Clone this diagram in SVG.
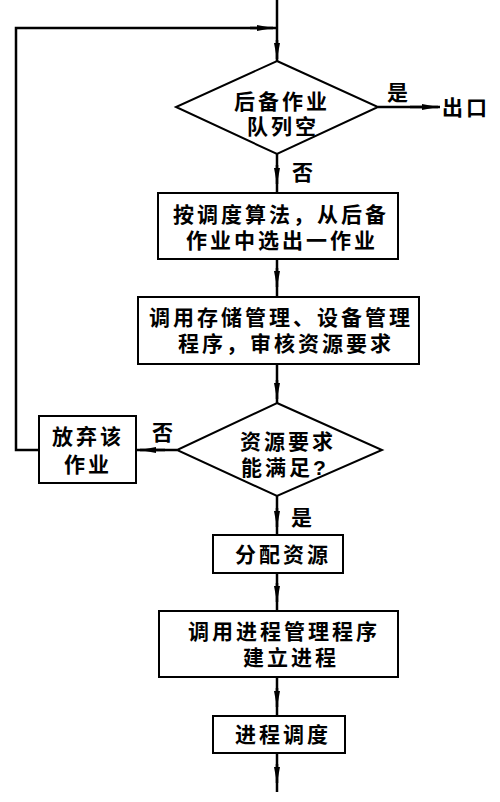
<svg xmlns="http://www.w3.org/2000/svg" width="500" height="802" viewBox="0 0 500 802">
<style>
.n{fill:#fff;stroke:#000;stroke-width:2}
.t{font-family:"Liberation Sans","Noto Sans CJK SC",sans-serif;font-size:21px;font-weight:bold;fill:#000;text-anchor:middle;letter-spacing:3px}
.c{fill:none;stroke:#000;stroke-width:2.5}
.a{fill:none;stroke:#000;stroke-width:2.5;marker-end:url(#ah)}
</style>
<defs>
<marker id="ah" markerUnits="userSpaceOnUse" markerWidth="16" markerHeight="8" viewBox="0 0 16 8" refX="16" refY="4" orient="auto">
<path d="M0,1 L16,4 L0,7 z" fill="#000"/>
</marker>
</defs>
<rect width="500" height="802" fill="#fff"/>
<g id="connectors">
<path class="c" d="M277,0 L277,61"/>
<path class="a" d="M277,40 L277,59"/>
<path class="c" d="M39,450 L16,450 L16,28 L277,28"/>
<path class="a" d="M250,28 L273,28"/>
<path class="c" d="M378,107 L440,107"/>
<path class="a" d="M410,107 L438,107"/>
<path class="c" d="M277,154 L277,193"/>
<path class="a" d="M277,165 L277,184"/>
<path class="c" d="M277,259 L277,297"/>
<path class="a" d="M277,268 L277,287"/>
<path class="c" d="M277,364 L277,403"/>
<path class="a" d="M277,380 L277,399"/>
<path class="c" d="M177,450 L136,450"/>
<path class="a" d="M165,450 L140,450"/>
<path class="c" d="M277,496 L277,535"/>
<path class="a" d="M277,508 L277,527"/>
<path class="c" d="M277,573 L277,611"/>
<path class="a" d="M277,583 L277,602"/>
<path class="c" d="M277,677 L277,716"/>
<path class="a" d="M277,688 L277,707"/>
<path class="c" d="M277,753 L277,792"/>
<path class="a" d="M277,764 L277,783"/>
</g>
<g id="d1">
<polygon class="n" points="277,61 378,107 277,154 176,107"/>
<text class="t"><tspan x="282" y="109">后备作业</tspan><tspan x="283" y="134">队列空</tspan></text>
</g>
<g id="label-yes1"><text class="t" x="399" y="100">是</text></g>
<g id="exit"><text class="t" x="466" y="115">出口</text></g>
<g id="label-no1"><text class="t" x="304" y="180">否</text></g>
<g id="b1">
<rect class="n" x="158" y="193" width="240" height="66"/>
<text class="t"><tspan x="281" y="222">按调度算法，从后备</tspan><tspan x="282" y="248">作业中选出一作业</tspan></text>
</g>
<g id="b2">
<rect class="n" x="138" y="297" width="281" height="67"/>
<text class="t"><tspan x="281" y="325">调用存储管理、设备管理</tspan><tspan x="286" y="351">程序，审核资源要求</tspan></text>
</g>
<g id="d2">
<polygon class="n" points="277,403 382,450 277,496 177,450"/>
<text class="t"><tspan x="288" y="449">资源要求</tspan><tspan x="285" y="475">能满足?</tspan></text>
</g>
<g id="label-no2"><text class="t" x="164" y="440">否</text></g>
<g id="label-yes2"><text class="t" x="303" y="525">是</text></g>
<g id="abandon">
<rect class="n" x="39" y="416" width="97" height="67"/>
<text class="t"><tspan x="88" y="444">放弃该</tspan><tspan x="88" y="472">作业</tspan></text>
</g>
<g id="b3">
<rect class="n" x="213" y="535" width="130" height="38"/>
<text class="t" x="283" y="562">分配资源</text>
</g>
<g id="b4">
<rect class="n" x="159" y="611" width="239" height="66"/>
<text class="t"><tspan x="284" y="639">调用进程管理程序</tspan><tspan x="291" y="665">建立进程</tspan></text>
</g>
<g id="b5">
<rect class="n" x="213" y="716" width="132" height="37"/>
<text class="t" x="283" y="742">进程调度</text>
</g>
</svg>
